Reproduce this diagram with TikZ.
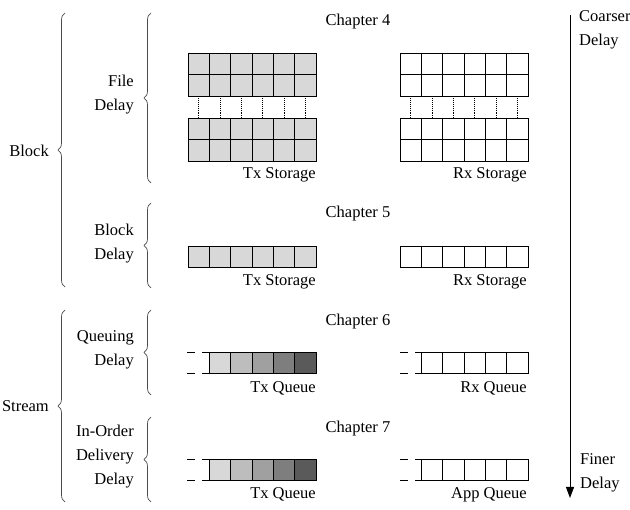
\documentclass[tikz,border=0pt]{standalone}
\usepackage{fontspec}
\setmainfont{Liberation Serif}
\usetikzlibrary{decorations.pathreplacing,arrows.meta}
\definecolor{gA}{HTML}{D8D8D8}
\definecolor{gB}{HTML}{BDBDBD}
\definecolor{gC}{HTML}{A0A0A0}
\definecolor{gD}{HTML}{7E7E7E}
\definecolor{gE}{HTML}{5A5A5A}
\begin{document}
\begin{tikzpicture}[x=1pt,y=-1pt,
  txt/.style={font=\fontsize{16.5}{24}\selectfont, inner sep=0pt},
  lbl/.style={txt, anchor=east, align=right},
  cell/.style={draw=black, line width=0.9pt},
  brc/.style={draw=black!70, line width=0.7pt, decorate, decoration={brace, amplitude=7pt}},
  qline/.style={draw=black, line width=0.9pt}]
\useasboundingbox (0,0) rectangle (630,510);
\def\cw{21.333}
% ---------- Chapter 4 grids ----------
\foreach \y in {53,118}{
  \fill[gA] (188,\y) rectangle ++(128,43.4);
  \foreach \x in {188,400}{
    \draw[cell] (\x,\y) rectangle ++(128,43.4);
    \draw[cell] (\x,\y+21.7) -- ++(128,0);
    \foreach \i in {1,...,5}{\draw[cell] (\x+\i*\cw,\y) -- ++(0,43.4);}
  }
}
\foreach \i in {0,...,5}{
  \draw[densely dotted, line width=0.9pt] (188+\cw/2+\i*\cw, 96.4) -- (188+\cw/2+\i*\cw, 118);
  \draw[densely dotted, line width=0.9pt] (400+\cw/2+\i*\cw, 96.4) -- (400+\cw/2+\i*\cw, 118);
}
\node[txt] (c4) at (358,22) {Chapter 4};
\node[txt, anchor=east] (ts4) at (316,175) {Tx Storage};
\node[txt, anchor=east] (rs4) at (527,175) {Rx Storage};
% ---------- Chapter 5 ----------
\fill[gA] (188,246) rectangle ++(128,21.5);
\foreach \x in {188,400}{
  \draw[cell] (\x,246) rectangle ++(128,21.5);
  \foreach \i in {1,...,5}{\draw[cell] (\x+\i*\cw,246) -- ++(0,21.5);}
}
\node[txt] (c5) at (358,214) {Chapter 5};
\node[txt, anchor=east] (ts5) at (316,282) {Tx Storage};
\node[txt, anchor=east] (rs5) at (527,282) {Rx Storage};
% ---------- Chapter 6 & 7 queues ----------
\foreach \y/\ch/\tl/\rl in {352.5/6/Tx Queue/Rx Queue, 459/7/Tx Queue/App Queue}{
  \foreach \i/\c in {0/gA,1/gB,2/gC,3/gD,4/gE}{
    \fill[\c] (209.3+\i*\cw, \y) rectangle ++(\cw,21);
  }
  \foreach \x in {209.3,421.3}{
    \draw[cell] (\x,\y) rectangle ++(5*\cw,21);
    \foreach \i in {1,...,4}{\draw[cell] (\x+\i*\cw,\y) -- ++(0,21);}
  }
  \foreach \x in {187,400}{
    \draw[qline] (\x,\y) -- ++(8,0);
    \draw[qline] (\x,\y+21) -- ++(8,0);
    \draw[qline] (\x+15,\y) -- ++(7,0);
    \draw[qline] (\x+15,\y+21) -- ++(7,0);
  }
  \node[txt] at (358,\y-30.5) {Chapter \ch};
  \node[txt, anchor=east] at (316,\y+35.5) {\tl};
  \node[txt, anchor=east] at (527,\y+35.5) {\rl};
}
% ---------- braces ----------
\draw[brc] (65,287) -- (65,13);
\draw[brc] (65,502) -- (65,310);
\draw[brc] (151,183) -- (151,13);
\draw[brc] (151,288) -- (151,203);
\draw[brc] (151,395) -- (151,310);
\draw[brc] (151,502) -- (151,417);
\node[lbl] (blk) at (49,151) {Block};
\node[lbl] (str) at (49,406) {Stream};
\node[lbl] (fd) at (134,95) {File\\Delay};
\node[lbl] (bd) at (134,244) {Block\\Delay};
\node[lbl] (qd) at (134,350) {Queuing\\Delay};
\node[lbl] (iod) at (134,457) {In-Order\\Delivery\\Delay};
% ---------- arrow ----------
\coordinate (atop) at (570,15);
\coordinate (abot) at (570,498);
\draw[line width=0.9pt, -{Triangle[length=11pt,width=8pt]}] (atop) -- (abot);
\node[txt, anchor=west, align=left] (co) at (579,30) {Coarser\\Delay};
\node[txt, anchor=west, align=left] (fi) at (580,473) {Finer\\Delay};
\end{tikzpicture}
\end{document}
